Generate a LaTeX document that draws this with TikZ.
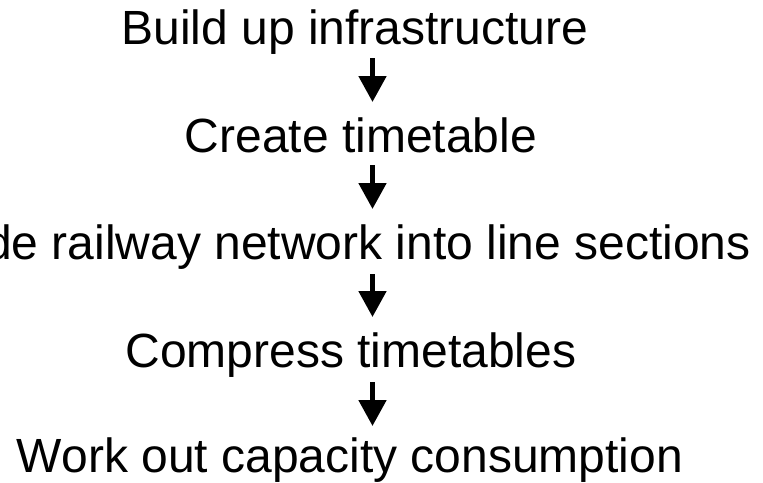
\documentclass[tikz,border=0pt]{standalone}
\usepackage{fontspec}
\setmainfont{Liberation Sans}
\usetikzlibrary{arrows.meta}
\begin{document}
\begin{tikzpicture}[x=1pt,y=1pt,
  step label/.style={font=\fontsize{48}{52}\selectfont, inner sep=0pt, text height=34pt, text depth=10pt},
  flow/.style={line width=5pt, -{Triangle[width=27pt,length=26pt]}}]
\useasboundingbox (0,0) rectangle (763,-482);
\node[step label, anchor=base] (l1) at (355,-44) {Build up infrastructure};
\node[step label, anchor=base] (l2) at (361,-152) {Create timetable};
\node[step label, anchor=base east] (l3) at (751,-259) {de railway network into line sections};
\node[step label, anchor=base] (l4) at (351,-367) {Compress timetables};
\node[step label, anchor=base] (l5) at (350,-472) {Work out capacity consumption};
\coordinate (a1) at (372.5,-58);  \coordinate (b1) at (372.5,-102);
\coordinate (a2) at (372.5,-165); \coordinate (b2) at (372.5,-209);
\coordinate (a3) at (372.5,-274); \coordinate (b3) at (372.5,-317);
\coordinate (a4) at (372.5,-382); \coordinate (b4) at (372.5,-426);
\draw[flow] (a1) -- (b1);
\draw[flow] (a2) -- (b2);
\draw[flow] (a3) -- (b3);
\draw[flow] (a4) -- (b4);
\end{tikzpicture}
\end{document}
